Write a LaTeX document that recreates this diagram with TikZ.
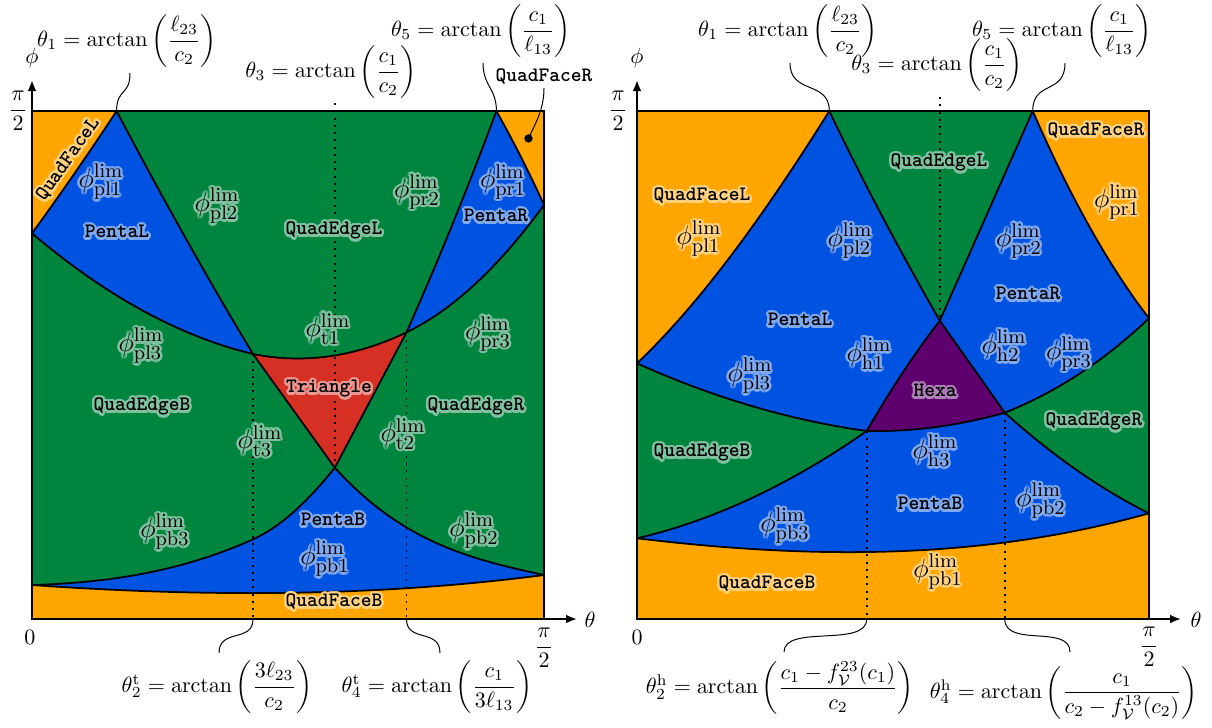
\documentclass[tikz,border=0pt]{standalone}
\usepackage{amsmath}
\usepackage[copies]{contour}
\usetikzlibrary{arrows.meta}
\contourlength{1.1pt}
\contournumber{16}
\definecolor{cOr}{RGB}{255,165,0}
\definecolor{cGr}{RGB}{0,133,62}
\definecolor{cBl}{RGB}{0,82,224}
\definecolor{cRd}{RGB}{214,48,36}
\definecolor{cPu}{RGB}{94,0,110}
\colorlet{hOr}{cOr!50!white}
\colorlet{hGr}{cGr!50!white}
\colorlet{hBl}{cBl!50!white}
\colorlet{hRd}{cRd!50!white}
\colorlet{hPu}{cPu!50!white}
\newcommand{\pl}[1]{$\phi^{\mathrm{lim}}_{\mathrm{#1}}$}
\newcommand{\hl}[2]{\contour{#1}{#2}}
\tikzset{
  tlab/.style={font=\fontsize{9.3}{11}\selectfont\ttfamily\bfseries, inner sep=0pt},
  mlab/.style={font=\fontsize{12.5}{15}\selectfont, inner sep=0pt},
  ann/.style={font=\fontsize{10}{12}\selectfont, inner sep=0pt},
  curve/.style={line width=0.8pt, line join=round},
  frame/.style={line width=0.9pt},
  dots/.style={line width=0.9pt, dash pattern=on 0.9pt off 2.4pt},
  lead/.style={line width=0.45pt},
  axis/.style={line width=0.9pt, -{Latex[length=5pt,width=4pt]}},
}
% left panel curves
\def\LA{(116.6,111) .. controls (89,153) and (61,193.5) .. (32,233.3)}
\def\LB{(496.4,111) .. controls (514,142.5) and (530,174) .. (544,205)}
\def\LC{(116.6,111) .. controls (162.07,197.4) and (207.53,278.5) .. (253,354) .. controls (280.27,391.9) and (307.53,429.8) .. (334.8,467.7) .. controls (404.53,544.4) and (474.27,559.66) .. (544,575)}
\def\LD{(496.4,111) .. controls (466.43,191.9) and (436.47,264.9) .. (406.5,332.3) .. controls (382.6,377.4) and (358.7,422.6) .. (334.8,467.7) .. controls (307.53,501.8) and (280.27,527.03) .. (253,539.3) .. controls (179.33,572.45) and (105.67,582.79) .. (32,585)}
\def\LE{(32,233.3) .. controls (105.67,295.9) and (179.33,336.3) .. (253,354) .. controls (304.17,364.2) and (355.33,356.9) .. (406.5,332.3) .. controls (452.33,310.3) and (498.17,267.8) .. (544,205)}
\def\LF{(32,585) .. controls (202.67,596.95) and (373.33,597.2) .. (544,575)}
% right panel curves
\def\RA{(829.3,111) .. controls (765.2,213.56) and (701.1,302.4) .. (637,363.3)}
\def\RB{(1032.7,111) .. controls (1071.47,200.2) and (1110.23,267.9) .. (1149,318.3)}
\def\RC{(829.3,111) .. controls (866.13,188.35) and (902.97,256.25) .. (939.8,320.7) .. controls (961.47,351.36) and (983.13,382.04) .. (1004.8,412.7) .. controls (1052.87,455.96) and (1100.93,489.27) .. (1149,513.3)}
\def\RD{(1032.7,111) .. controls (1001.73,180.9) and (970.77,250.8) .. (939.8,320.7) .. controls (915.43,352.1) and (891.07,388.84) .. (866.7,431) .. controls (790.13,484.6) and (713.57,520.38) .. (637,538.3)}
\def\RE{(637,363.3) .. controls (713.57,397.76) and (790.13,420.28) .. (866.7,431) .. controls (912.73,431.92) and (958.77,425.59) .. (1004.8,412.7) .. controls (1052.87,393.47) and (1100.93,363.97) .. (1149,318.3)}
\def\RF{(637,538.3) .. controls (807.67,558.78) and (978.33,561.09) .. (1149,513.3)}
\begin{document}
\begin{tikzpicture}[x=0.4545pt, y=-0.4545pt]
\useasboundingbox (0,0) rectangle (1212,727);
% ================= LEFT PANEL =================
\fill[cGr] (32,111) rectangle (544,619);
\fill[cBl] \LE -- (544,111) -- (32,111) -- cycle;
\begin{scope}
  \clip \LC -- (544,111) -- cycle;
  \clip \LD -- (32,111) -- cycle;
  \fill[cRd] (32,111) rectangle (544,619);
  \clip \LE -- (544,111) -- (32,111) -- cycle;
  \fill[cGr] (32,111) rectangle (544,619);
\end{scope}
\begin{scope}
  \clip \LC -- (544,619) -- (32,619) -- (32,111) -- cycle;
  \clip \LD -- (32,619) -- (544,619) -- (544,111) -- cycle;
  \fill[cBl] (32,111) rectangle (544,619);
\end{scope}
\fill[cOr] \LA -- (32,111) -- cycle;
\fill[cOr] \LB -- (544,111) -- cycle;
\fill[cOr] \LF -- (544,619) -- (32,619) -- cycle;
\draw[curve] \LA; \draw[curve] \LB; \draw[curve] \LC;
\draw[curve] \LD; \draw[curve] \LE; \draw[curve] \LF;
% dotted guides
\coordinate (lT3) at (334.8,103); \coordinate (lX) at (334.8,467.7);
\coordinate (lP2) at (253,354); \coordinate (lB2) at (253,619);
\coordinate (lP4) at (406.5,332.3); \coordinate (lB4) at (406.5,619);
\draw[dots] (lT3) -- (lX);
\draw[dots] (lP2) -- (lB2);
\draw[dots] (lP4) -- (lB4);
\draw[frame] (32,111) rectangle (544,619);
% axes
\coordinate (lO) at (32,619);
\coordinate (lYt) at (32,80);
\coordinate (lXt) at (577,619);
\draw[axis] (lO) -- (lYt);
\draw[axis] (lO) -- (lXt);
\node[ann] (lphi) at (32,58) {$\phi$};
\node[ann] (ltheta) at (590,620) {$\theta$};
\node[ann] (lzero) at (30,637) {$0$};
\node[ann] (lpiy) at (18,111) {$\dfrac{\pi}{2}$};
\node[ann] (lpix) at (544,648) {$\dfrac{\pi}{2}$};
% annotations
\node[ann] (lth1) at (127,41) {$\theta_1 = \arctan\left(\dfrac{\ell_{23}}{c_2}\right)$};
\node[ann] (lth3) at (331,72) {$\theta_3 = \arctan\left(\dfrac{c_1}{c_2}\right)$};
\node[ann] (lth5) at (481,31) {$\theta_5 = \arctan\left(\dfrac{c_1}{\ell_{13}}\right)$};
\node[ann] (lth2) at (217,687) {$\theta_2^{\mathrm{t}} = \arctan\left(\dfrac{3\ell_{23}}{c_2}\right)$};
\node[ann] (lth4) at (437,687) {$\theta_4^{\mathrm{t}} = \arctan\left(\dfrac{c_1}{3\ell_{13}}\right)$};
\coordinate (lc1a) at (130,73); \coordinate (lc1b) at (116.6,111);
\coordinate (lc5a) at (483,63); \coordinate (lc5b) at (496.4,111);
\coordinate (lc2b) at (219,653); \coordinate (lc4b) at (440,653);
\draw[lead] (lc1a) .. controls (130,96) and (116.6,88) .. (lc1b);
\draw[lead] (lc5a) .. controls (483,86) and (496.4,88) .. (lc5b);
\draw[lead] (lB2) .. controls (253,643) and (219,628) .. (lc2b);
\draw[lead] (lB4) .. controls (406.5,643) and (440,628) .. (lc4b);
\node[tlab] (lQFR) at (544,77) {QuadFaceR};
\coordinate (ldot) at (528.5,138.4);
\fill (ldot) circle[radius=4.2];
\draw[lead] (544,88) .. controls (544,110) and (535,124) .. (ldot);
% region labels
\node[tlab,rotate=55] (lQFL) at (69,160) {\hl{hOr}{QuadFaceL}};
\node[mlab] (lpl1) at (101,183) {\hl{hBl}{\pl{pl1}}};
\node[tlab] (lPL) at (117,233) {\hl{hBl}{PentaL}};
\node[mlab] (lpl2) at (217,207) {\hl{hGr}{\pl{pl2}}};
\node[tlab] (lQEL) at (334,232) {\hl{hGr}{QuadEdgeL}};
\node[mlab] (lpr2) at (417,193) {\hl{hGr}{\pl{pr2}}};
\node[mlab] (lpr1) at (503,183) {\hl{hBl}{\pl{pr1}}};
\node[tlab] (lPR) at (496,217) {\hl{hBl}{PentaR}};
\node[mlab] (lt1) at (328,330) {\hl{hGr}{\pl{t1}}};
\node[mlab] (lpl3) at (141,347) {\hl{hGr}{\pl{pl3}}};
\node[mlab] (lpr3) at (488,335) {\hl{hGr}{\pl{pr3}}};
\node[tlab] (lTri) at (329,390) {\hl{hRd}{Triangle}};
\node[tlab] (lQEB) at (142,408) {\hl{hGr}{QuadEdgeB}};
\node[tlab] (lQER) at (476,408) {\hl{hGr}{QuadEdgeR}};
\node[mlab] (lt3) at (260,442) {\hl{hGr}{\pl{t3}}};
\node[mlab] (lt2) at (403,435) {\hl{hGr}{\pl{t2}}};
\node[tlab] (lPB) at (333,521) {\hl{hBl}{PentaB}};
\node[mlab] (lpb3) at (165,533) {\hl{hGr}{\pl{pb3}}};
\node[mlab] (lpb2) at (474,532) {\hl{hGr}{\pl{pb2}}};
\node[mlab] (lpb1) at (325,560) {\hl{hBl}{\pl{pb1}}};
\node[tlab] (lQFB) at (334,603) {\hl{hOr}{QuadFaceB}};
% ================= RIGHT PANEL =================
\fill[cGr] (637,111) rectangle (1149,619);
\fill[cBl] \RE -- (1149,111) -- (637,111) -- cycle;
\begin{scope}
  \clip \RC -- (1149,111) -- cycle;
  \clip \RD -- (637,111) -- cycle;
  \fill[cGr] (637,111) rectangle (1149,619);
\end{scope}
\begin{scope}
  \clip \RC -- (1149,619) -- (637,619) -- (637,111) -- cycle;
  \clip \RD -- (637,619) -- (1149,619) -- (1149,111) -- cycle;
  \fill[cBl] (637,111) rectangle (1149,619);
  \clip \RE -- (1149,111) -- (637,111) -- cycle;
  \fill[cPu] (637,111) rectangle (1149,619);
\end{scope}
\fill[cOr] \RA -- (637,111) -- cycle;
\fill[cOr] \RB -- (1149,111) -- cycle;
\fill[cOr] \RF -- (1149,619) -- (637,619) -- cycle;
\draw[curve] \RA; \draw[curve] \RB; \draw[curve] \RC;
\draw[curve] \RD; \draw[curve] \RE; \draw[curve] \RF;
\coordinate (rT3) at (939.8,97); \coordinate (rX) at (939.8,320.7);
\coordinate (rP2) at (866.7,431); \coordinate (rB2) at (866.7,619);
\coordinate (rP4) at (1004.8,412.7); \coordinate (rB4) at (1004.8,619);
\draw[dots] (rT3) -- (rX);
\draw[dots] (rP2) -- (rB2);
\draw[dots] (rP4) -- (rB4);
\draw[frame] (637,111) rectangle (1149,619);
\coordinate (rO) at (637,619);
\coordinate (rYt) at (637,80);
\coordinate (rXt) at (1181,619);
\draw[axis] (rO) -- (rYt);
\draw[axis] (rO) -- (rXt);
\node[ann] (rphi) at (637,58) {$\phi$};
\node[ann] (rtheta) at (1196,620) {$\theta$};
\node[ann] (rzero) at (637,637) {$0$};
\node[ann] (rpiy) at (618,111) {$\dfrac{\pi}{2}$};
\node[ann] (rpix) at (1149,647) {$\dfrac{\pi}{2}$};
\node[ann] (rth1) at (788,31) {$\theta_1 = \arctan\left(\dfrac{\ell_{23}}{c_2}\right)$};
\node[ann] (rth3) at (937,65) {$\theta_3 = \arctan\left(\dfrac{c_1}{c_2}\right)$};
\node[ann] (rth5) at (1062,31) {$\theta_5 = \arctan\left(\dfrac{c_1}{\ell_{13}}\right)$};
\node[ann] (rth2) at (780,688) {$\theta_2^{\mathrm{h}} = \arctan\left(\dfrac{c_1 - f_{\mathcal{V}}^{23}(c_1)}{c_2}\right)$};
\node[ann] (rth4) at (1064,693) {$\theta_4^{\mathrm{h}} = \arctan\left(\dfrac{c_1}{c_2 - f_{\mathcal{V}}^{13}(c_2)}\right)$};
\coordinate (rc1a) at (790,63); \coordinate (rc1b) at (829.3,111);
\coordinate (rc5a) at (1065,63); \coordinate (rc5b) at (1032.7,111);
\coordinate (rc2b) at (784,652); \coordinate (rc4b) at (1070,652);
\draw[lead] (rc1a) .. controls (790,95) and (829.3,80) .. (rc1b);
\draw[lead] (rc5a) .. controls (1065,95) and (1032.7,80) .. (rc5b);
\draw[lead] (rB2) .. controls (866.7,648) and (784,624) .. (rc2b);
\draw[lead] (rB4) .. controls (1004.8,648) and (1070,624) .. (rc4b);
\node[tlab] (rQFR) at (1096,132) {\hl{hOr}{QuadFaceR}};
\node[tlab] (rQEL) at (939,164) {\hl{hGr}{QuadEdgeL}};
\node[tlab] (rQFL) at (702,197) {\hl{hOr}{QuadFaceL}};
\node[mlab] (rpr1) at (1117,203) {\hl{hOr}{\pl{pr1}}};
\node[mlab] (rpl1) at (699,240) {\hl{hOr}{\pl{pl1}}};
\node[mlab] (rpl2) at (850,242) {\hl{hBl}{\pl{pl2}}};
\node[mlab] (rpr2) at (1019,242) {\hl{hBl}{\pl{pr2}}};
\node[tlab] (rPR) at (1028,295) {\hl{hBl}{PentaR}};
\node[tlab] (rPL) at (800,321) {\hl{hBl}{PentaL}};
\node[mlab] (rh1) at (869,355) {\hl{hBl}{\pl{h1}}};
\node[mlab] (rh2) at (1004,347) {\hl{hBl}{\pl{h2}}};
\node[mlab] (rpr3) at (1069,355) {\hl{hBl}{\pl{pr3}}};
\node[mlab] (rpl3) at (750,377) {\hl{hBl}{\pl{pl3}}};
\node[tlab] (rHex) at (935,392) {\hl{hPu}{Hexa}};
\node[tlab] (rQER) at (1094,423) {\hl{hGr}{QuadEdgeR}};
\node[mlab] (rh3) at (935,452) {\hl{hBl}{\pl{h3}}};
\node[tlab] (rQEB) at (702,454) {\hl{hGr}{QuadEdgeB}};
\node[tlab] (rPB) at (930,505) {\hl{hBl}{PentaB}};
\node[mlab] (rpb2) at (1041,502) {\hl{hBl}{\pl{pb2}}};
\node[mlab] (rpb3) at (785,527) {\hl{hBl}{\pl{pb3}}};
\node[mlab] (rpb1) at (938,573) {\hl{hOr}{\pl{pb1}}};
\node[tlab] (rQFB) at (767,585) {\hl{hOr}{QuadFaceB}};
\end{tikzpicture}
\end{document}
